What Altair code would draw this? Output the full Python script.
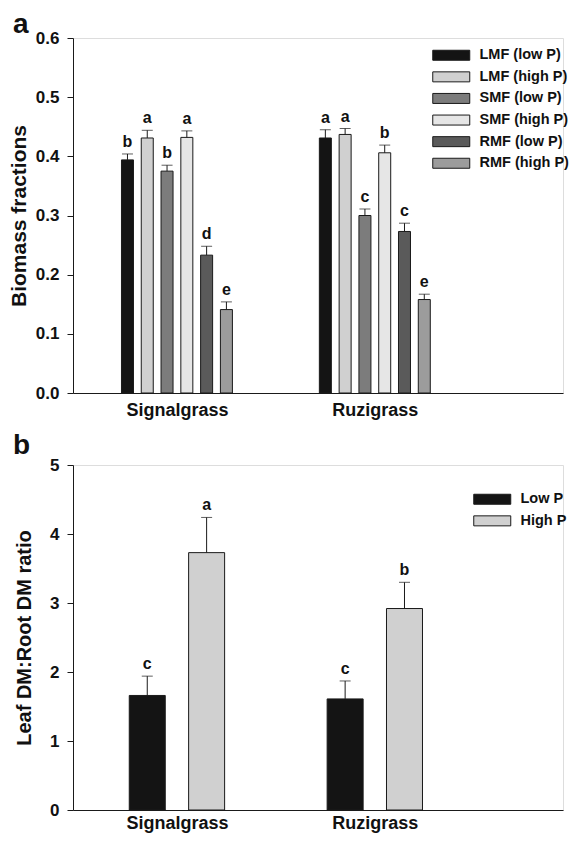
import altair as alt
import pandas as pd

# ---------------- data ----------------
groups = ["Signalgrass", "Ruzigrass"]

series_a = ["LMF (low P)", "LMF (high P)", "SMF (low P)", "SMF (high P)", "RMF (low P)", "RMF (high P)"]
colors_a = ["#141414", "#d0d0d0", "#7c7c7c", "#e6e6e6", "#5a5a5a", "#9c9c9c"]
sig_a = [0.394, 0.431, 0.375, 0.432, 0.233, 0.141]
sig_a_err = [0.010, 0.013, 0.010, 0.011, 0.015, 0.013]
ruz_a = [0.431, 0.437, 0.300, 0.406, 0.273, 0.158]
ruz_a_err = [0.014, 0.010, 0.011, 0.013, 0.014, 0.009]
sig_a_letters = ["b", "a", "b", "a", "d", "e"]
ruz_a_letters = ["a", "a", "c", "b", "c", "e"]

series_b = ["Low P", "High P"]
colors_b = ["#141414", "#d0d0d0"]
sig_b = [1.66, 3.73]
sig_b_err = [0.28, 0.51]
ruz_b = [1.61, 2.92]
ruz_b_err = [0.26, 0.38]
sig_b_letters = ["c", "a"]
ruz_b_letters = ["c", "b"]

yticks_a = [0.0, 0.1, 0.2, 0.3, 0.4, 0.5, 0.6]
yticks_b = [0, 1, 2, 3, 4, 5]


def table(series, vals, errs, letters):
    rows = []
    for gi, g in enumerate(groups):
        for si, s in enumerate(series):
            rows.append({"group": g, "gi": gi + 1, "series": s, "si": si,
                         "value": vals[gi][si], "err": errs[gi][si],
                         "letter": letters[gi][si]})
    return pd.DataFrame(rows)


df_a = table(series_a, [sig_a, ruz_a], [sig_a_err, ruz_a_err], [sig_a_letters, ruz_a_letters])
df_b = table(series_b, [sig_b, ruz_b], [sig_b_err, ruz_b_err], [sig_b_letters, ruz_b_letters])

INK = "#1a1a1a"
FONT = "Liberation Sans"
label_expr = "[" + ",".join(f"'{g}'" for g in groups) + "][datum.value - 1]"
PLOT_W = 490
PX_PER_UNIT = 202


def panel(df, series, colors, ydom, yticks, yfmt, ytitle, title_size, title_pad,
          height, bar_size, spread, legend_x, legend_y, letter, letter_y, xlab_pad):
    n = len(series)
    base = alt.Chart(df).transform_calculate(
        xpos=f"datum.gi + (datum.si - {(n - 1) / 2}) * {spread}",
        top="datum.value + datum.err",
    )
    xaxis = alt.Axis(values=[1, 2], labelExpr=label_expr, ticks=False, tickSize=0,
                     grid=False, title=None, labelFontSize=18, labelFontWeight="bold",
                     labelPadding=xlab_pad, labelColor="#111", domainColor=INK,
                     domainWidth=1, labelFont=FONT)
    xscale = alt.Scale(domain=[0.5, 0.5 + PLOT_W / PX_PER_UNIT], nice=False, zero=False)
    yscale = alt.Scale(domain=ydom, nice=False, zero=True)
    yaxis = alt.Axis(values=yticks, format=yfmt, title=ytitle, grid=False,
                     tickSize=6, tickColor=INK, domainColor=INK, domainWidth=1,
                     labelPadding=8, labelFontSize=17, labelFontWeight="bold",
                     labelColor="#111", labelFont=FONT,
                     titleFontSize=title_size, titleFontWeight="bold", titleColor="#111",
                     titleFont=FONT, titlePadding=title_pad)
    x = alt.X("xpos:Q", scale=xscale, axis=xaxis)

    bars = base.mark_bar(size=bar_size, stroke=INK, strokeWidth=1).encode(
        x=x,
        y=alt.Y("value:Q", scale=yscale, axis=yaxis),
        color=alt.Color("series:N", scale=alt.Scale(domain=series, range=colors),
                        sort=series,
                        legend=alt.Legend(title=None, orient="none", legendX=legend_x,
                                          legendY=legend_y, padding=0,
                                          symbolType="M-3.7,-1H3.7V1H-3.7Z",
                                          symbolSize=100, symbolStrokeColor=INK,
                                          symbolStrokeWidth=1, symbolOpacity=1,
                                          labelFontSize=14.5, labelFontWeight="bold",
                                          labelColor="#111", labelFont=FONT,
                                          labelOffset=21, rowPadding=5.6)),
    )
    err = base.mark_rule(color=INK, strokeWidth=1).encode(
        x=x, y=alt.Y("value:Q", scale=yscale, axis=yaxis), y2="top:Q")
    cap = base.mark_tick(orient="horizontal", size=11, thickness=1, color=INK).encode(
        x=x, y=alt.Y("top:Q", scale=yscale, axis=yaxis))
    letters = base.mark_text(dy=-7, baseline="alphabetic", fontSize=16, fontWeight="bold",
                             color="#111", font=FONT).encode(
        x=x, y=alt.Y("top:Q", scale=yscale, axis=yaxis), text="letter:N")
    lab = alt.Chart(pd.DataFrame({"t": [letter]})).mark_text(
        align="left", baseline="alphabetic", fontSize=28, fontWeight="bold",
        color="#111", font=FONT).encode(text="t:N", x=alt.value(-60), y=alt.value(letter_y))
    return alt.layer(bars, err, cap, letters, lab).properties(width=PLOT_W, height=height)


chart_a = panel(df_a, series_a, colors_a, [0, 0.6], yticks_a, ".1f", "Biomass fractions",
                21, 6, 355, 12, 0.1, 371, 10, "a", -5, 8)
chart_b = panel(df_b, series_b, colors_b, [0, 5], yticks_b, "d", "Leaf DM:Root DM ratio",
                20, 15, 345, 36, 0.3, 412, 27, "b", -11, 4)

chart = alt.vconcat(chart_a, chart_b, spacing=11).resolve_scale(
    color="independent", x="independent", y="independent"
).properties(
    padding={"left": -1, "top": 2, "right": 0, "bottom": 0}
).configure_view(stroke=None).configure(font=FONT)

chart.save("out.html", embed_options={"renderer": "svg", "actions": False})
